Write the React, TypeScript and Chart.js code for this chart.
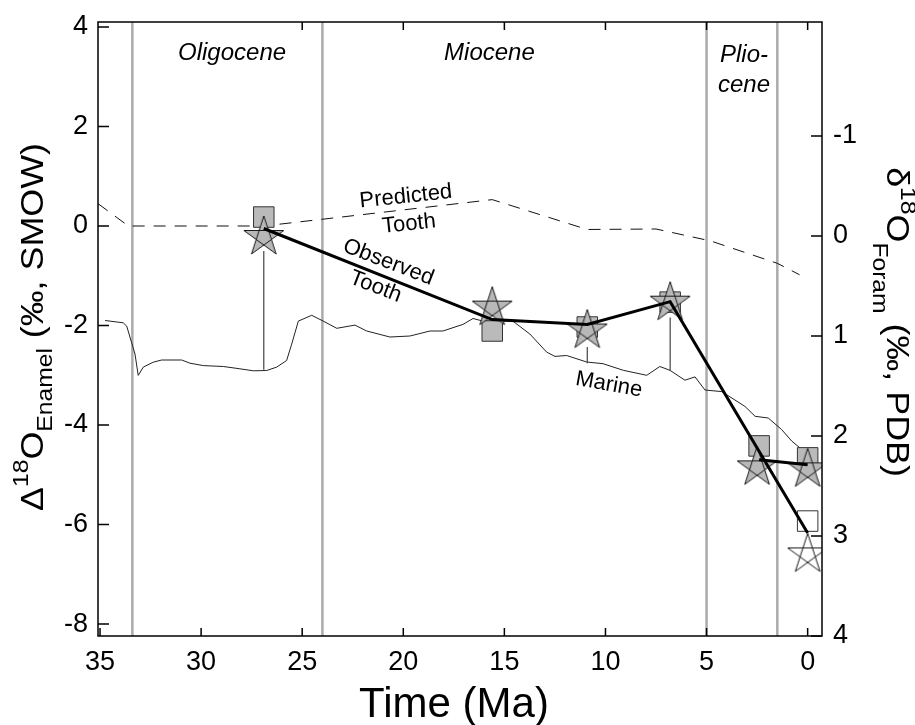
import React, { useEffect, useRef } from 'react';
import { Chart, registerables } from 'chart.js';

Chart.register(...registerables);

// ---------- data ----------
const xTickValues = [35, 30, 25, 20, 15, 10, 5, 0];
const xTopTickValues = [25, 20, 15, 10, 5, 0];
const leftTickValues = [4, 2, 0, -2, -4, -6, -8];
const rightTickValues = [-1, 0, 1, 2, 3, 4];

const epochBoundaries = [33.4, 24, 5, 1.5];

// Marine foram record (right axis, permil PDB)
const marineAge = [
  34.75, 33.85, 33.68, 33.27, 33.11, 32.86, 32.37, 31.95, 30.96, 30.55, 29.89, 28.9, 28.08, 27.42,
  26.76, 26.26, 25.77, 25.52, 25.19, 24.53, 23.96, 23.29, 22.39, 21.81, 20.66, 19.67, 18.68, 18.04,
  17.05, 16.55, 16.06, 14.58, 13.74, 12.91, 12.5, 11.92, 10.93, 10.12, 9.12, 7.96, 7.31, 6.81, 6.07,
  5.57, 5.08, 4.25, 3.1, 2.6, 1.95, 1.29, 0.79, 0.3, 0.05,
];
const marineD18O = [
  0.845, 0.868, 0.901, 1.18, 1.394, 1.311, 1.262, 1.24, 1.24, 1.272, 1.296, 1.305, 1.328, 1.348,
  1.345, 1.311, 1.245, 1.081, 0.851, 0.793, 0.851, 0.923, 0.891, 0.95, 1.01, 1.0, 0.95, 0.95,
  0.884, 0.825, 0.851, 0.851, 0.98, 1.161, 1.204, 1.195, 1.26, 1.277, 1.343, 1.393, 1.305, 1.343, 1.442,
  1.409, 1.54, 1.556, 1.704, 1.803, 1.82, 1.935, 2.05, 2.133, 2.183,
];

// Predicted tooth (left axis)
const predictedAge = [35.1, 33.6, 26.9, 15.6, 10.9, 7.5, 4.8, 1.5, 0.4];
const predictedValue = [0.45, 0, 0, 0.53, -0.07, -0.06, -0.3, -0.75, -0.98];

// Observed tooth line (left axis)
const observedAge = [26.9, 15.6, 10.9, 6.8, 0];
const observedValue = [-0.05, -1.88, -1.98, -1.52, -6.17];
const recentAge = [2.4, 0];
const recentValue = [-4.7, -4.8];

// Markers
const squareAge = [26.9, 15.6, 10.9, 6.8, 2.4, 0];
const squareValue = [0.18, -2.11, -2.03, -1.53, -4.42, -4.66];
const openSquareAge = [0];
const openSquareValue = [-5.93];
const starAge = [26.9, 15.6, 10.9, 6.8, 2.5, 0];
const starValue = [-0.22, -1.64, -2.1, -1.54, -4.85, -4.89];
const openStarAge = [0];
const openStarValue = [-6.6];

// Connectors from tooth to marine curve
const linkAge = [26.9, 10.9, 6.8];
const linkTop = [-0.5, -2.43, -1.84];
const linkBottom = [-2.89, -2.76, -2.91];

// ---------- styling ----------
const FAMILY = '"Liberation Sans", Arial, Helvetica, sans-serif';

const pts = (xs: number[], ys: number[]) => xs.map((x, i) => ({ x, y: ys[i] }));

function makeStar(R: number, fill: string | null): HTMLCanvasElement {
  const size = Math.ceil(2 * R + 4);
  const c = document.createElement('canvas');
  c.width = size;
  c.height = size;
  const g = c.getContext('2d')!;
  const cx = size / 2;
  const cy = size / 2;
  const v = [0, 1, 2, 3, 4].map((k) => {
    const a = -Math.PI / 2 + (k * 2 * Math.PI) / 5;
    return [cx + R * Math.cos(a), cy + R * Math.sin(a)];
  });
  g.beginPath();
  g.moveTo(v[0][0], v[0][1]);
  g.lineTo(v[2][0], v[2][1]);
  g.lineTo(v[4][0], v[4][1]);
  g.lineTo(v[1][0], v[1][1]);
  g.lineTo(v[3][0], v[3][1]);
  g.closePath();
  if (fill) {
    g.fillStyle = fill;
    g.fill('nonzero');
  }
  g.strokeStyle = '#1a1a1a';
  g.lineWidth = 1;
  g.stroke();
  return c;
}

type Part = { t: string; size: number; dy: number };

function drawRich(
  ctx: CanvasRenderingContext2D,
  parts: Part[],
  cx: number,
  cy: number,
  angle: number,
  stretch: number
) {
  ctx.save();
  ctx.translate(cx, cy);
  ctx.rotate(angle);
  ctx.scale(stretch, 1);
  let total = 0;
  const widths = parts.map((p) => {
    ctx.font = `${p.size}px ${FAMILY}`;
    const w = ctx.measureText(p.t).width;
    total += w;
    return w;
  });
  let x = -total / 2;
  ctx.textBaseline = 'alphabetic';
  ctx.textAlign = 'left';
  ctx.fillStyle = '#000';
  parts.forEach((p, i) => {
    ctx.font = `${p.size}px ${FAMILY}`;
    ctx.fillText(p.t, x, p.dy);
    x += widths[i];
  });
  ctx.restore();
}

function drawLabel(
  ctx: CanvasRenderingContext2D,
  text: string,
  x: number,
  y: number,
  angleDeg: number,
  font: string
) {
  ctx.save();
  ctx.translate(x, y);
  ctx.rotate((angleDeg * Math.PI) / 180);
  ctx.font = font;
  ctx.fillStyle = '#000';
  ctx.textAlign = 'center';
  ctx.textBaseline = 'middle';
  ctx.fillText(text, 0, 0);
  ctx.restore();
}

const decorPlugin = {
  id: 'decor',
  beforeDatasetsDraw(chart: any) {
    const { ctx, chartArea } = chart;
    const { left, right, top, bottom } = chartArea;
    const xs = chart.scales.x;
    ctx.save();
    ctx.beginPath();
    ctx.rect(left, top, right - left, bottom - top);
    ctx.clip();
    ctx.strokeStyle = '#ababab';
    ctx.lineWidth = 2.5;
    epochBoundaries.forEach((b) => {
      const px = xs.getPixelForValue(b);
      ctx.beginPath();
      ctx.moveTo(px, top);
      ctx.lineTo(px, bottom);
      ctx.stroke();
    });
    ctx.restore();
  },
  afterDraw(chart: any) {
    const { ctx, chartArea } = chart;
    const { left, right, top, bottom } = chartArea;
    const xs = chart.scales.x;
    const yl = chart.scales.y;
    const yr = chart.scales.y1;
    ctx.save();
    // frame
    ctx.strokeStyle = '#000';
    ctx.lineWidth = 1.5;
    ctx.strokeRect(left, top, right - left, bottom - top);
    // inward ticks
    ctx.lineWidth = 1.5;
    ctx.beginPath();
    xTickValues.forEach((v) => {
      const px = xs.getPixelForValue(v);
      ctx.moveTo(px, bottom);
      ctx.lineTo(px, bottom - 8);
    });
    xTopTickValues.forEach((v) => {
      const px = xs.getPixelForValue(v);
      ctx.moveTo(px, top);
      ctx.lineTo(px, top + 8);
    });
    leftTickValues.forEach((v) => {
      const py = yl.getPixelForValue(v);
      ctx.moveTo(left, py);
      ctx.lineTo(left + 11, py);
    });
    rightTickValues.forEach((v) => {
      const py = yr.getPixelForValue(v);
      ctx.moveTo(right, py);
      ctx.lineTo(right - 11, py);
    });
    ctx.stroke();

    // epoch names
    const ital = `italic 24px ${FAMILY}`;
    ctx.font = ital;
    ctx.fillStyle = '#000';
    ctx.textAlign = 'center';
    ctx.textBaseline = 'alphabetic';
    ctx.fillText('Oligocene', xs.getPixelForValue(28.47), top + 37.5);
    ctx.fillText('Miocene', xs.getPixelForValue(15.74), top + 37.5);
    ctx.fillText('Plio-', xs.getPixelForValue(3.15), top + 40);
    ctx.fillText('cene', xs.getPixelForValue(3.15), top + 70);

    // curve annotations
    const f22 = `22px ${FAMILY}`;
    drawLabel(ctx, 'Predicted', xs.getPixelForValue(19.87), yl.getPixelForValue(0.59), -6, f22);
    drawLabel(ctx, 'Tooth', xs.getPixelForValue(19.72), yl.getPixelForValue(0.04), -6, f22);
    drawLabel(ctx, 'Observed', xs.getPixelForValue(20.74), yl.getPixelForValue(-0.73), 21, f22);
    drawLabel(ctx, 'Tooth', xs.getPixelForValue(21.37), yl.getPixelForValue(-1.22), 21, f22);
    drawLabel(ctx, 'Marine', xs.getPixelForValue(9.83), yl.getPixelForValue(-3.19), 10, f22);

    // axis titles
    drawRich(
      ctx,
      [
        { t: 'Δ', size: 32, dy: 0 },
        { t: '18', size: 22, dy: -15 },
        { t: 'O', size: 32, dy: 0 },
        { t: 'Enamel', size: 22, dy: 9 },
        { t: ' (‰, SMOW)', size: 32, dy: 0 },
      ],
      43,
      327,
      -Math.PI / 2,
      1.12
    );
    drawRich(
      ctx,
      [
        { t: 'δ', size: 32, dy: 0 },
        { t: '18', size: 22, dy: -14 },
        { t: 'O', size: 32, dy: 0 },
        { t: 'Foram', size: 22, dy: 14 },
        { t: ' (‰, PDB)', size: 32, dy: 0 },
      ],
      887,
      322,
      Math.PI / 2,
      1.12
    );
    ctx.font = `42px ${FAMILY}`;
    ctx.textAlign = 'center';
    ctx.textBaseline = 'alphabetic';
    ctx.fillStyle = '#000';
    ctx.fillText('Time (Ma)', 454, 717);
    ctx.restore();
  },
};

export default function App() {
  const ref = useRef<HTMLCanvasElement>(null);
  useEffect(() => {
    const greyStar = makeStar(21, '#b8b8b8');
    const openStar = makeStar(21, null);

    const linkData: any[] = [];
    linkAge.forEach((a, i) => {
      linkData.push({ x: a, y: linkTop[i] });
      linkData.push({ x: a, y: linkBottom[i] });
      if (i < linkAge.length - 1) linkData.push({ x: a, y: null });
    });

    const tickFont = { size: 27, family: FAMILY };

    const chart = new Chart(ref.current!, {
      type: 'scatter',
      data: {
        datasets: [
          {
            type: 'line',
            label: 'Observed tooth',
            data: pts(observedAge, observedValue),
            borderColor: '#000',
            borderWidth: 3,
            pointRadius: 0,
            showLine: true,
            tension: 0,
            yAxisID: 'y',
            order: 0,
            clip: 0,
          },
          {
            type: 'line',
            label: 'Recent tooth',
            data: pts(recentAge, recentValue),
            borderColor: '#000',
            borderWidth: 3,
            pointRadius: 0,
            showLine: true,
            tension: 0,
            yAxisID: 'y',
            order: 0,
            clip: 0,
          },
          {
            label: 'Stars',
            data: pts(starAge, starValue),
            pointStyle: greyStar,
            pointRadius: 21,
            yAxisID: 'y',
            order: 1,
            clip: 0,
          },
          {
            label: 'Open star',
            data: pts(openStarAge, openStarValue),
            pointStyle: openStar,
            pointRadius: 21,
            yAxisID: 'y',
            order: 1,
            clip: 0,
          },
          {
            label: 'Squares',
            data: pts(squareAge, squareValue),
            pointStyle: 'rect',
            pointRadius: 14.5,
            backgroundColor: '#bababa',
            borderColor: '#333',
            borderWidth: 1,
            yAxisID: 'y',
            order: 2,
            clip: 0,
          },
          {
            label: 'Open square',
            data: pts(openSquareAge, openSquareValue),
            pointStyle: 'rect',
            pointRadius: 14.5,
            backgroundColor: 'rgba(255,255,255,0)',
            borderColor: '#333',
            borderWidth: 1,
            yAxisID: 'y',
            order: 2,
            clip: 0,
          },
          {
            type: 'line',
            label: 'Links',
            data: linkData,
            borderColor: '#444',
            borderWidth: 1.2,
            pointRadius: 0,
            showLine: true,
            spanGaps: false,
            yAxisID: 'y',
            order: 3,
            clip: 0,
          },
          {
            type: 'line',
            label: 'Predicted tooth',
            data: pts(predictedAge, predictedValue),
            borderColor: '#111',
            borderWidth: 1,
            borderDash: [12, 9],
            pointRadius: 0,
            showLine: true,
            tension: 0,
            yAxisID: 'y',
            order: 4,
            clip: 0,
          },
          {
            type: 'line',
            label: 'Marine',
            data: pts(marineAge, marineD18O),
            borderColor: '#222',
            borderWidth: 1,
            pointRadius: 0,
            showLine: true,
            tension: 0,
            yAxisID: 'y1',
            order: 5,
            clip: 0,
          },
        ] as any,
      },
      options: {
        animation: false,
        responsive: false,
        maintainAspectRatio: false,
        events: [],
        layout: { padding: { top: 13, left: 0, right: 0, bottom: 0 } },
        plugins: {
          legend: { display: false },
          tooltip: { enabled: false },
        },
        scales: {
          x: {
            type: 'linear',
            position: 'bottom',
            min: -0.71,
            max: 35.1,
            reverse: true,
            grid: { display: false, drawTicks: false },
            border: { display: false },
            ticks: { font: tickFont, color: '#000', padding: 10, autoSkip: false, maxRotation: 0 },
            afterBuildTicks: (s: any) => {
              s.ticks = xTickValues.map((v) => ({ value: v }));
            },
            afterFit: (s: any) => {
              s.height = 89;
              s.paddingLeft = 0;
              s.paddingRight = 0;
            },
          },
          y: {
            type: 'linear',
            position: 'left',
            min: -8.24,
            max: 4.1,
            grid: { display: false, drawTicks: false },
            border: { display: false },
            ticks: { font: tickFont, color: '#000', padding: 10, autoSkip: false },
            afterBuildTicks: (s: any) => {
              s.ticks = leftTickValues.map((v) => ({ value: v }));
            },
            afterFit: (s: any) => {
              s.width = 98;
              s.paddingTop = 0;
              s.paddingBottom = 0;
            },
          },
          y1: {
            type: 'linear',
            position: 'right',
            min: -2.14,
            max: 4,
            reverse: true,
            grid: { display: false, drawTicks: false },
            border: { display: false },
            ticks: { font: tickFont, color: '#000', padding: 11, autoSkip: false },
            afterBuildTicks: (s: any) => {
              s.ticks = rightTickValues.map((v) => ({ value: v }));
            },
            afterFit: (s: any) => {
              s.width = 93;
              s.paddingTop = 0;
              s.paddingBottom = 0;
            },
          },
        },
      } as any,
      plugins: [decorPlugin],
    });
    return () => chart.destroy();
  }, []);

  return (
    <div
      style={{
        position: 'fixed',
        left: 0,
        top: 0,
        width: 915,
        height: 725,
        background: '#fff',
      }}
    >
      <canvas ref={ref} width={915} height={725} style={{ display: 'block', width: 915, height: 725 }} />
    </div>
  );
}
